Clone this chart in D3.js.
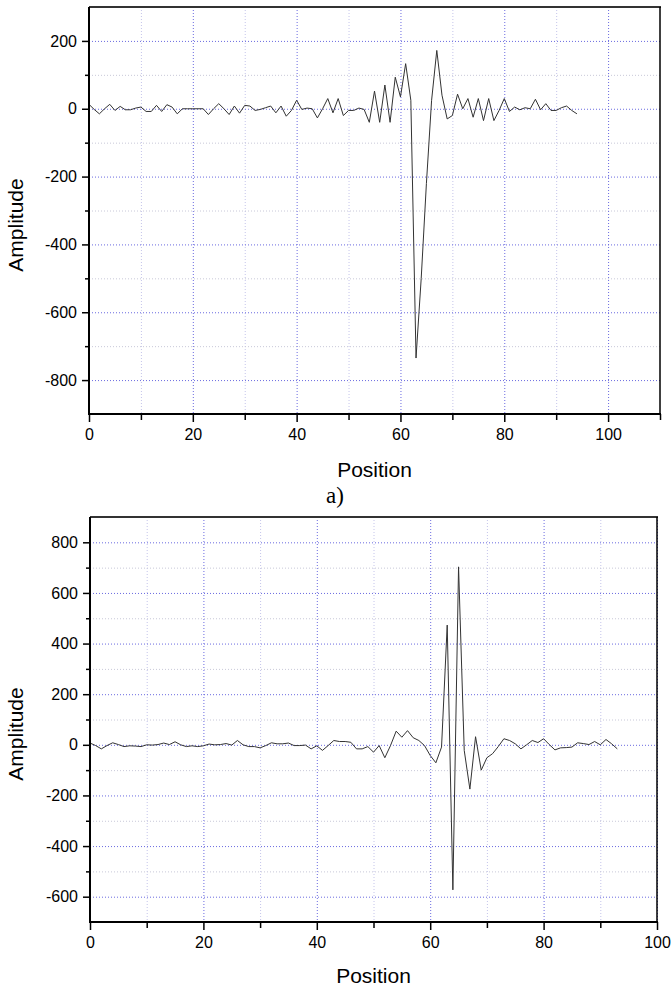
<!DOCTYPE html>
<html>
<head>
<meta charset="utf-8">
<script src="https://cdnjs.cloudflare.com/ajax/libs/d3/7.8.5/d3.min.js"></script>
<style>
body{margin:0;background:#fff;}
svg{display:block;}
.tick text{font-family:"Liberation Sans",Arial,sans-serif;font-size:16px;fill:#000;}
</style>
</head>
<body>
<div id="chart"></div>
<script>
// panel a) amplitude per position 0..94
var ampA=[13,-2,-15,0,13,-5,7,-3,-3,2,5,-8,-8,10,-8,12,5,-15,0,0,
	0,0,0,-17,0,15,0,-17,8,-13,10,8,-5,-2,3,8,-12,8,-22,-5,
	25,-2,2,0,-27,0,30,-12,30,-20,-5,-5,2,-2,-40,52,-40,70,-40,93,
	35,133,25,-735,-500,-220,25,172,40,-30,-20,43,0,30,-25,30,-35,30,-35,-5,
	30,-8,5,-3,3,0,28,-3,15,-5,-5,3,8,-5,-15];
// panel b) amplitude per position 0..93
var ampB=[7,-3,-16,-3,8,1,-7,-4,-5,-7,0,-1,1,7,1,12,0,-7,-4,-7,
	-4,3,0,1,5,-1,17,0,-7,-7,-12,-3,8,4,4,7,-3,-3,-1,-16,
	-4,-22,-3,17,13,13,10,-16,-16,-7,-29,-3,-51,-3,54,30,56,28,17,-3,
	-42,-71,-9,473,-573,703,-22,-175,32,-100,-51,-35,-7,24,17,4,-16,0,17,9,
	24,1,-20,-12,-11,-9,8,5,1,13,0,21,4,-16];

var xMajorA=[0,20,40,60,80,100], xMinorA=[10,30,50,70,90,110];
var yMajorA=[200,0,-200,-400,-600,-800], yMinorA=[100,-100,-300,-500,-700];
var xMajorB=[0,20,40,60,80,100], xMinorB=[10,30,50,70,90];
var yMajorB=[800,600,400,200,0,-200,-400,-600], yMinorB=[700,500,300,100,-100,-300,-500];

var W=672,H=989;
var svg=d3.select("#chart").append("svg").attr("width",W).attr("height",H);

function panel(cfg){
	var g=svg.append("g");
	var x=d3.scaleLinear().domain(cfg.xdom).range([cfg.left,cfg.right]);
	var y=d3.scaleLinear().domain(cfg.ydom).range([cfg.bottom,cfg.top]);

	// grid: minor lighter, major blue, all dotted
	g.append("g").selectAll("line").data(cfg.xMinor.filter(function(d){return d<cfg.xdom[1];}))
		.enter().append("line")
		.attr("x1",function(d){return x(d)+0.5;}).attr("x2",function(d){return x(d)+0.5;})
		.attr("y1",cfg.top).attr("y2",cfg.bottom)
		.attr("stroke","#c4c4ea").attr("stroke-width",1).attr("stroke-dasharray","1,2");
	g.append("g").selectAll("line").data(cfg.yMinor)
		.enter().append("line")
		.attr("x1",cfg.left).attr("x2",cfg.right)
		.attr("y1",function(d){return y(d)+0.5;}).attr("y2",function(d){return y(d)+0.5;})
		.attr("stroke","#c8c8d8").attr("stroke-width",1).attr("stroke-dasharray","1,2");
	g.append("g").selectAll("line").data(cfg.xMajor.filter(function(d){return d>cfg.xdom[0];}))
		.enter().append("line")
		.attr("x1",function(d){return x(d)+0.5;}).attr("x2",function(d){return x(d)+0.5;})
		.attr("y1",cfg.top).attr("y2",cfg.bottom)
		.attr("stroke","#6a6ae0").attr("stroke-width",1).attr("stroke-dasharray","1,2");
	g.append("g").selectAll("line").data(cfg.yMajor)
		.enter().append("line")
		.attr("x1",cfg.left).attr("x2",cfg.right)
		.attr("y1",function(d){return y(d)+0.5;}).attr("y2",function(d){return y(d)+0.5;})
		.attr("stroke","#6a6ae0").attr("stroke-width",1).attr("stroke-dasharray","1,2");

	// series
	var line=d3.line().x(function(d,i){return x(i);}).y(function(d){return y(d);});
	g.append("path").datum(cfg.data).attr("d",line)
		.attr("fill","none").attr("stroke","#333").attr("stroke-width",1);

	// frame top/right
	g.append("line").attr("x1",cfg.left).attr("x2",cfg.right+1).attr("y1",cfg.top).attr("y2",cfg.top)
		.attr("stroke","#333").attr("stroke-width",2);
	g.append("line").attr("x1",cfg.right).attr("x2",cfg.right).attr("y1",cfg.top).attr("y2",cfg.bottom)
		.attr("stroke","#000").attr("stroke-width",1.5);

	// axes
	g.append("g").attr("transform","translate(0,"+cfg.bottom+")")
		.call(d3.axisBottom(x).tickValues(cfg.xMajor).tickSize(8).tickPadding(7).tickFormat(d3.format("d")));
	g.append("g").attr("transform","translate(0,"+cfg.bottom+")")
		.call(d3.axisBottom(x).tickValues(cfg.xMinor).tickSize(6).tickFormat(""));
	g.append("g").attr("transform","translate("+cfg.left+",0)")
		.call(d3.axisLeft(y).tickValues(cfg.yMajor).tickSize(7).tickPadding(5).tickFormat(d3.format("d")));
	g.append("g").attr("transform","translate("+cfg.left+",0)")
		.call(d3.axisLeft(y).tickValues(cfg.yMinor).tickSize(4).tickFormat(""));
	g.selectAll(".domain").remove();
	g.selectAll(".tick line").attr("stroke","#000").attr("stroke-width",1.5);
	g.selectAll(".tick text").text(function(){return d3.select(this).text().replace("\u2212","-");});

	g.append("line").attr("x1",cfg.left).attr("x2",cfg.left).attr("y1",cfg.top).attr("y2",cfg.bottom+1)
		.attr("stroke","#000").attr("stroke-width",2);
	g.append("line").attr("x1",cfg.left-1).attr("x2",cfg.right+1).attr("y1",cfg.bottom).attr("y2",cfg.bottom)
		.attr("stroke","#000").attr("stroke-width",2);

	// titles
	g.append("text").attr("x",(cfg.left+cfg.right)/2).attr("y",cfg.xTitleY)
		.attr("text-anchor","middle").attr("font-family","Liberation Sans, Arial, sans-serif")
		.attr("font-size",21).text("Position");
	g.append("text").attr("transform","translate(23,"+cfg.yTitleY+") rotate(-90)")
		.attr("text-anchor","middle").attr("font-family","Liberation Sans, Arial, sans-serif")
		.attr("font-size",21).text("Amplitude");
}

panel({data:ampA,xdom:[0,110],ydom:[-900,300],left:89,right:660,top:7,bottom:414,
	xMajor:xMajorA,xMinor:xMinorA,yMajor:yMajorA,yMinor:yMinorA,xTitleY:477,yTitleY:225});
panel({data:ampB,xdom:[0,100],ydom:[-700,900],left:90,right:657,top:517,bottom:922,
	xMajor:xMajorB,xMinor:xMinorB,yMajor:yMajorB,yMinor:yMinorB,xTitleY:983,yTitleY:734});

svg.append("text").attr("x",335).attr("y",503).attr("text-anchor","middle")
	.attr("font-family","Liberation Serif, Times New Roman, serif").attr("font-size",23).text("a)");
</script>
</body>
</html>
